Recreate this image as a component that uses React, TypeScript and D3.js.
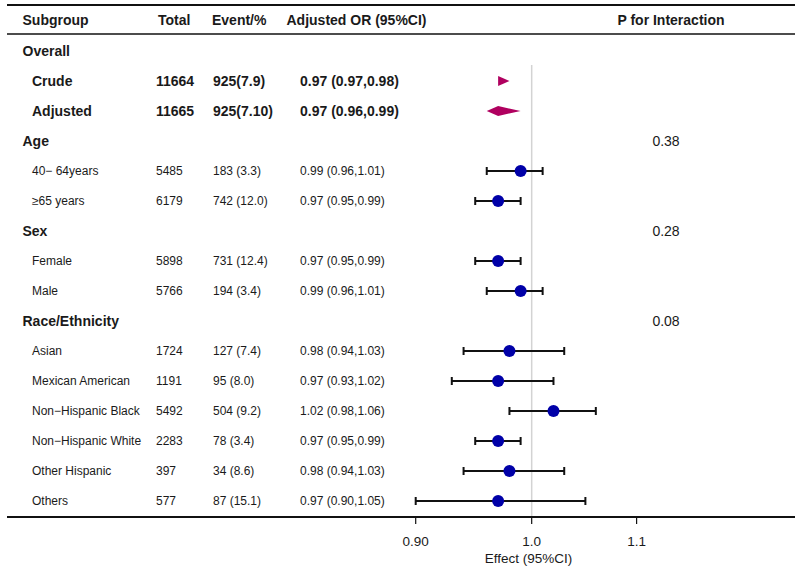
import React from "react";
import * as d3 from "d3";

const subgroups = ["Overall", "Crude", "Adjusted", "Age", "40− 64years", "≥65 years", "Sex", "Female", "Male", "Race/Ethnicity", "Asian", "Mexican American", "Non−Hispanic Black", "Non−Hispanic White", "Other Hispanic", "Others"];
const rowKinds = ["group", "overall", "overall", "group", "item", "item", "group", "item", "item", "group", "item", "item", "item", "item", "item", "item"];
const totals = ["", "11664", "11665", "", "5485", "6179", "", "5898", "5766", "", "1724", "1191", "5492", "2283", "397", "577"];
const events = ["", "925(7.9)", "925(7.10)", "", "183 (3.3)", "742 (12.0)", "", "731 (12.4)", "194 (3.4)", "", "127 (7.4)", "95 (8.0)", "504 (9.2)", "78 (3.4)", "34 (8.6)", "87 (15.1)"];
const orLabels = ["", "0.97 (0.97,0.98)", "0.97 (0.96,0.99)", "", "0.99 (0.96,1.01)", "0.97 (0.95,0.99)", "", "0.97 (0.95,0.99)", "0.99 (0.96,1.01)", "", "0.98 (0.94,1.03)", "0.97 (0.93,1.02)", "1.02 (0.98,1.06)", "0.97 (0.95,0.99)", "0.98 (0.94,1.03)", "0.97 (0.90,1.05)"];
const estimates = [null, 0.97, 0.97, null, 0.99, 0.97, null, 0.97, 0.99, null, 0.98, 0.97, 1.02, 0.97, 0.98, 0.97];
const lowers = [null, 0.97, 0.96, null, 0.96, 0.95, null, 0.95, 0.96, null, 0.94, 0.93, 0.98, 0.95, 0.94, 0.90];
const uppers = [null, 0.98, 0.99, null, 1.01, 0.99, null, 0.99, 1.01, null, 1.03, 1.02, 1.06, 0.99, 1.03, 1.05];
const pValues = ["", "", "", "0.38", "", "", "0.28", "", "", "0.08", "", "", "", "", "", ""];
const headers = ["Subgroup", "Total", "Event/%", "Adjusted OR (95%CI)", "P for Interaction"];
const tickValues = [0.9, 1.0, 1.1];
const tickLabels = ["0.90", "1.0", "1.1"];
const axisTitle = "Effect (95%CI)";

const FONT = "'Liberation Sans', Arial, sans-serif";
const TEXT = "#1a1a1a";
const POINT = "#0000a8";
const DIAMOND = "#b0005f";

export default function App() {
  const W = 800, H = 568;
  const x = d3.scaleLog().domain([0.9, 1.1]).range([415.7, 636.6]);
  const y = d3.scaleLinear().domain([0, subgroups.length - 1]).range([51, 501]);
  const axisY = 517;

  return (
    <svg width={W} height={H} style={{ position: "absolute", left: 0, top: 0, background: "#fff" }} fontFamily={FONT}>
      <rect width={W} height={H} fill="#fff" />
      {/* header */}
      <line x1={7} x2={795} y1={5} y2={5} stroke="#111" strokeWidth={2.2} />
      <line x1={7} x2={795} y1={34} y2={34} stroke="#111" strokeWidth={1.5} />
      <g fontSize={14} fontWeight="bold" fill={TEXT} dominantBaseline="central">
        <text x={22.5} y={20}>{headers[0]}</text>
        <text x={158} y={20}>{headers[1]}</text>
        <text x={212} y={20}>{headers[2]}</text>
        <text x={286.5} y={20}>{headers[3]}</text>
        <text x={671} y={20} textAnchor="middle">{headers[4]}</text>
      </g>
      {/* reference line */}
      <line x1={x(1)} x2={x(1)} y1={65} y2={axisY} stroke="#d3d3d3" strokeWidth={1.5} />
      {/* rows */}
      {subgroups.map((s, i) => {
        const kind = rowKinds[i];
        const yy = y(i);
        const bold = kind !== "item";
        const fs = bold ? 14 : 12;
        const labelX = kind === "group" ? 22.5 : 32;
        return (
          <g key={i} fontSize={fs} fontWeight={bold ? "bold" : "normal"} fill={TEXT} dominantBaseline="central">
            <text x={labelX} y={yy}>{s}</text>
            {totals[i] && <text x={156} y={yy}>{totals[i]}</text>}
            {events[i] && <text x={213} y={yy}>{events[i]}</text>}
            {orLabels[i] && <text x={300} y={yy}>{orLabels[i]}</text>}
            {pValues[i] && <text x={666} y={yy} textAnchor="middle" fontWeight="normal" fontSize={14}>{pValues[i]}</text>}
          </g>
        );
      })}
      {/* marks */}
      {subgroups.map((s, i) => {
        const est = estimates[i], lo = lowers[i], hi = uppers[i];
        if (est == null || lo == null || hi == null) return null;
        const yy = y(i);
        if (rowKinds[i] === "overall") {
          const h = 5;
          const pts = [[x(lo), yy], [x(est), yy - h], [x(hi), yy], [x(est), yy + h]];
          return <polygon key={i} points={pts.map(p => p.join(",")).join(" ")} fill={DIAMOND} />;
        }
        return (
          <g key={i}>
            <line x1={x(lo)} x2={x(hi)} y1={yy} y2={yy} stroke="#111" strokeWidth={2} />
            <line x1={x(lo)} x2={x(lo)} y1={yy - 4} y2={yy + 4} stroke="#111" strokeWidth={2} />
            <line x1={x(hi)} x2={x(hi)} y1={yy - 4} y2={yy + 4} stroke="#111" strokeWidth={2} />
            <circle cx={x(est)} cy={yy} r={6} fill={POINT} />
          </g>
        );
      })}
      {/* axis */}
      <line x1={7} x2={795} y1={axisY} y2={axisY} stroke="#111" strokeWidth={2.2} />
      {tickValues.map((t, i) => (
        <g key={t}>
          <line x1={x(t)} x2={x(t)} y1={axisY} y2={axisY + 7} stroke="#111" strokeWidth={1.2} />
          <text x={x(t)} y={541.5} textAnchor="middle" dominantBaseline="central" fontSize={13.5} fill={TEXT}>{tickLabels[i]}</text>
        </g>
      ))}
      <text x={528.5} y={558} textAnchor="middle" dominantBaseline="central" fontSize={13.5} fill={TEXT}>{axisTitle}</text>
    </svg>
  );
}
